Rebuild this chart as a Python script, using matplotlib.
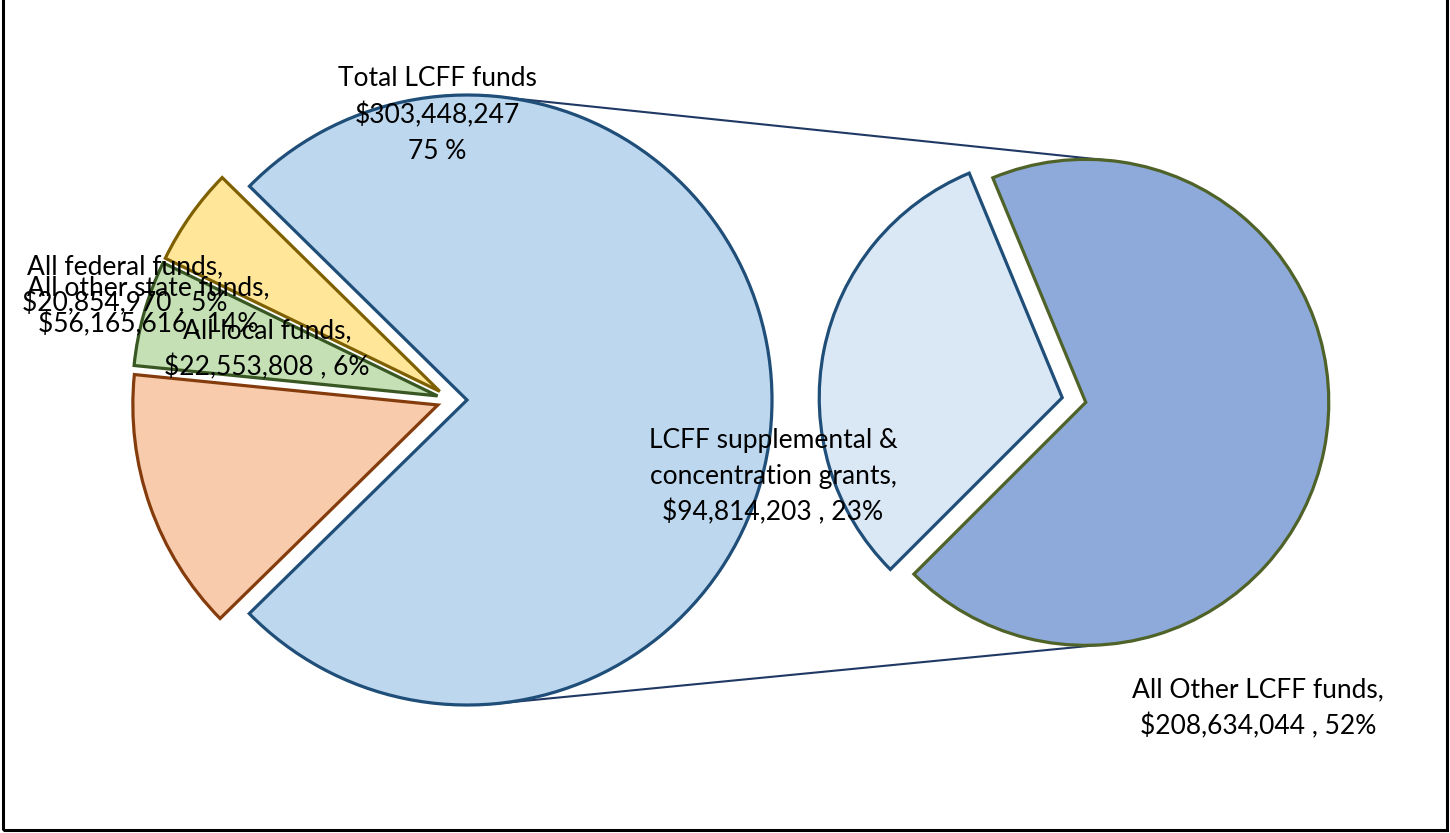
import numpy as np
import matplotlib.pyplot as plt
from matplotlib.patches import Rectangle

plt.rcParams['font.family'] = ['Lato', 'DejaVu Sans']

# left pie: all funds
main_labels = ['All federal funds', 'All local funds', 'All other state funds', 'Total LCFF funds']
main_values = [20854970, 22553808, 56165616, 303448247]
main_pcts = [5, 6, 14, 75]
main_colors = ['#FFE699', '#C5E0B4', '#F8CBAD', '#BDD7EE']
main_edges = ['#7F6000', '#385723', '#843C0C', '#1F4E79']

# right pie: split of LCFF
sub_labels = ['LCFF supplemental &\nconcentration grants', 'All Other LCFF funds']
sub_values = [94814203, 208634044]
sub_pcts = [23, 52]
sub_colors = ['#DAE8F5', '#8EAADB']
sub_edges = ['#1F4E79', '#4F6228']

W, H = 1450, 833
fig = plt.figure(figsize=(W / 100, H / 100), dpi=100)
ax = fig.add_axes([0, 0, 1, 1])

# pixel-ish layout, y up
c1, r1 = (452, 433), 305
c2, r2 = (1074, 433), 243

# explode is in data units here
w1, _ = ax.pie(main_values, colors=main_colors, startangle=135.5, center=c1, radius=r1,
               explode=[15] * 4, frame=True,
               wedgeprops=dict(linewidth=2.3))
for w, ec in zip(w1, main_edges):
    w.set_edgecolor(ec)

w2, _ = ax.pie(sub_values, colors=sub_colors, startangle=112.5, center=c2, radius=r2,
               explode=[12] * 2, frame=True,
               wedgeprops=dict(linewidth=2.3))
for w, ec in zip(w2, sub_edges):
    w.set_edgecolor(ec)
ax.set_xlim(0, W)
ax.set_ylim(0, H)
ax.set_aspect('auto')
ax.axis('off')

# connector lines between LCFF slice and the breakdown pie
def pt(wedge, ang):
    cx, cy = wedge.center
    return cx + wedge.r * np.cos(np.radians(ang)), cy + wedge.r * np.sin(np.radians(ang))

blue, dark = w1[3], w2[1]
for a1, a2 in [(86, 85), (276, 273)]:
    p, q = pt(blue, a1), pt(dark, a2)
    ax.plot([p[0], q[0]], [p[1], q[1]], color='#203864', lw=1.5, zorder=0.5)

def money(v):
    return '${:,}'.format(v)

fs = 19
ls = 1.52
ax.text(437, H - 115, '%s\n%s\n%d %%' % (main_labels[3], money(main_values[3]), main_pcts[3]),
        ha='center', va='center', fontsize=fs, linespacing=ls)
ax.text(125, H - 285, '%s,\n%s , %d%%' % (main_labels[0], money(main_values[0]), main_pcts[0]),
        ha='center', va='center', fontsize=fs, linespacing=ls)
ax.text(148, H - 306, '%s,\n%s , %d%%' % (main_labels[2], money(main_values[2]), main_pcts[2]),
        ha='center', va='center', fontsize=fs, linespacing=ls)
ax.text(267, H - 349, '%s,\n%s , %d%%' % (main_labels[1], money(main_values[1]), main_pcts[1]),
        ha='center', va='center', fontsize=fs, linespacing=ls)
ax.text(773, H - 477, '%s,\n%s , %d%%' % (sub_labels[0], money(sub_values[0]), sub_pcts[0]),
        ha='center', va='center', fontsize=fs, linespacing=ls)
ax.text(1258, H - 708, '%s,\n%s , %d%%' % (sub_labels[1], money(sub_values[1]), sub_pcts[1]),
        ha='center', va='center', fontsize=fs, linespacing=ls)

# outer frame (top edge cut off)
fig.patches.append(Rectangle((3 / W, 3 / H), (W - 6) / W, 1.2, transform=fig.transFigure,
                             fill=False, edgecolor='black', linewidth=2.2, clip_on=False))

fig.savefig('out.png', dpi=100)
